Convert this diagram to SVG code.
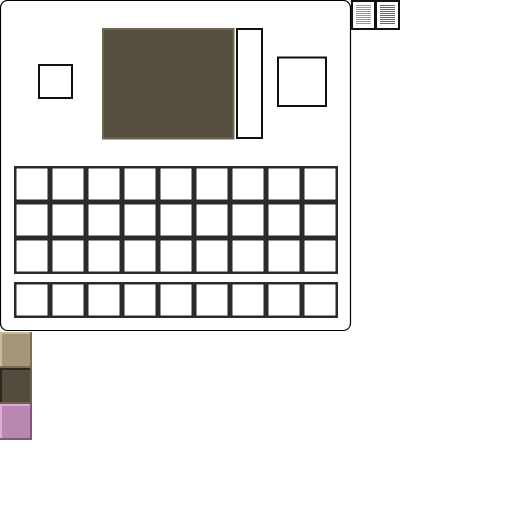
<svg xmlns="http://www.w3.org/2000/svg" width="512" height="512" viewBox="0 0 512 512">
<style>
.cell{fill:#fff;stroke:#2a2a2a;stroke-width:2.5}
.box{fill:#fff;stroke:#111;stroke-width:2}
.ln1{stroke:#999;stroke-width:1}
.ln2{stroke:#666;stroke-width:1}
</style>
<defs>
<g id="row">
<rect class="cell" x="15.25" y="1.25" width="33.5" height="33.5"/>
<rect class="cell" x="51.25" y="1.25" width="33.5" height="33.5"/>
<rect class="cell" x="87.25" y="1.25" width="33.5" height="33.5"/>
<rect class="cell" x="123.25" y="1.25" width="33.5" height="33.5"/>
<rect class="cell" x="159.25" y="1.25" width="33.5" height="33.5"/>
<rect class="cell" x="195.25" y="1.25" width="33.5" height="33.5"/>
<rect class="cell" x="231.25" y="1.25" width="33.5" height="33.5"/>
<rect class="cell" x="267.25" y="1.25" width="33.5" height="33.5"/>
<rect class="cell" x="303.25" y="1.25" width="33.5" height="33.5"/>
</g>
</defs>
<rect width="512" height="512" fill="#fff"/>
<g id="panel">
<rect x="0.5" y="0.5" width="350" height="330" rx="7" fill="#fff" stroke="#000" stroke-width="1.2"/>
</g>
<g id="slot-left"><rect class="box" x="39" y="65" width="33" height="33"/></g>
<g id="preview">
<rect x="103" y="29" width="130.5" height="109.5" fill="#564e3e" stroke="#6e654c" stroke-width="2"/>
</g>
<g id="bar"><rect class="box" x="237" y="29" width="25" height="109"/></g>
<g id="slot-right"><rect class="box" x="278" y="57.5" width="48" height="48.5"/></g>
<g id="grid">
<use href="#row" y="166"/>
<use href="#row" y="202"/>
<use href="#row" y="238"/>
</g>
<g id="hotbar"><use href="#row" y="282"/></g>
<g id="book1">
<rect x="352" y="1" width="23" height="28" fill="#fff" stroke="#111" stroke-width="2"/>
<g class="ln1"><line x1="356" y1="5.5" x2="371" y2="5.5"/><line x1="356" y1="7.5" x2="371" y2="7.5"/><line x1="356" y1="9.5" x2="371" y2="9.5"/><line x1="356" y1="11.5" x2="371" y2="11.5"/><line x1="356" y1="13.5" x2="371" y2="13.5"/><line x1="356" y1="15.5" x2="371" y2="15.5"/><line x1="356" y1="17.5" x2="371" y2="17.5"/><line x1="356" y1="19.5" x2="371" y2="19.5"/><line x1="356" y1="21.5" x2="371" y2="21.5"/><line x1="356" y1="23.5" x2="371" y2="23.5"/></g>
</g>
<g id="book2">
<rect x="376" y="1" width="23" height="28" fill="#fff" stroke="#111" stroke-width="2"/>
<g class="ln2"><line x1="380" y1="5.5" x2="395" y2="5.5"/><line x1="380" y1="7.5" x2="395" y2="7.5"/><line x1="380" y1="9.5" x2="395" y2="9.5"/><line x1="380" y1="11.5" x2="395" y2="11.5"/><line x1="380" y1="13.5" x2="395" y2="13.5"/><line x1="380" y1="15.5" x2="395" y2="15.5"/><line x1="380" y1="17.5" x2="395" y2="17.5"/><line x1="380" y1="19.5" x2="395" y2="19.5"/><line x1="380" y1="21.5" x2="395" y2="21.5"/><line x1="380" y1="23.5" x2="395" y2="23.5"/></g>
</g>
<g id="swatch1">
<rect x="0" y="332" width="32" height="36" fill="#a5967a"/>
<path d="M0 332H32V334H2V368H0Z" fill="#cdbb95"/>
<path d="M32 332V368H0V366H30V332Z" fill="#7c6f58"/>
</g>
<g id="swatch2">
<rect x="0" y="368" width="32" height="36" fill="#534b3b"/>
<path d="M0 368H32V370H2V404H0Z" fill="#2c271e"/>
<path d="M32 368V404H0V402H30V368Z" fill="#6c634d"/>
</g>
<g id="swatch3">
<rect x="0" y="404" width="32" height="36" fill="#b888b0"/>
<path d="M0 404H32V406H2V440H0Z" fill="#e6a8de"/>
<path d="M32 404V440H0V438H30V404Z" fill="#7d5a77"/>
</g>
</svg>
